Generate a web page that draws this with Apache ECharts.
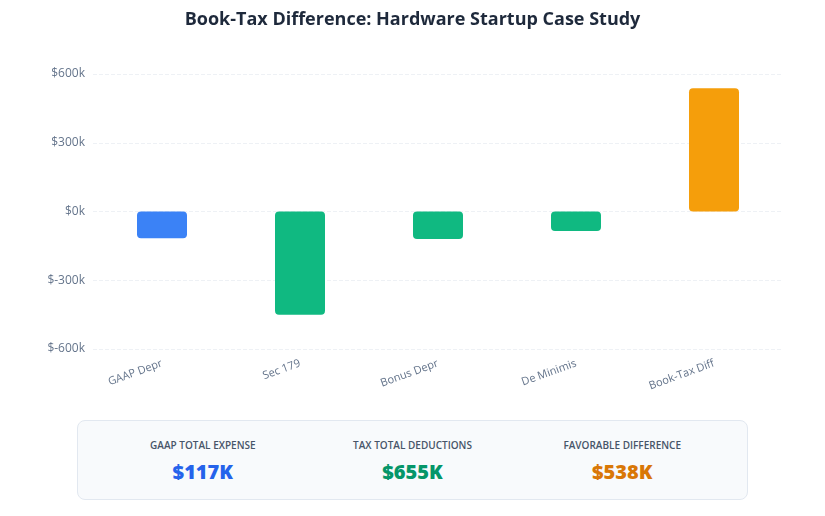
<!DOCTYPE html>
<html>
  <head>
    <meta charset="utf-8" />
    <title>Book-Tax Difference</title>
    <script src="https://cdn.jsdelivr.net/npm/echarts@6/dist/echarts.min.js"></script>
    <style>
      body { margin: 0; background: #fff; font-family: "Open Sans", "Noto Sans", sans-serif; }
      #main { width: 825px; height: 410px; }
      .summary {
        width: 671px; margin: 10px 0 0 77px; height: 80px; box-sizing: border-box;
        background: #f8fafc; border: 1px solid #e2e8f0; border-radius: 8px;
        display: flex; padding: 0 20px;
      }
      .kpi { flex: 1; text-align: center; padding-top: 17px; }
      .kpi .lbl { font-size: 10px; font-weight: 600; color: #475569; letter-spacing: 0; }
      .kpi .val { font-size: 20px; font-weight: 800; margin-top: 6px; }
    </style>
  </head>
  <body>
    <div id="main"></div>
    <div class="summary">
      <div class="kpi"><div class="lbl">GAAP TOTAL EXPENSE</div><div class="val" id="k1" style="color:#2563eb"></div></div>
      <div class="kpi"><div class="lbl">TAX TOTAL DEDUCTIONS</div><div class="val" id="k2" style="color:#059669"></div></div>
      <div class="kpi"><div class="lbl">FAVORABLE DIFFERENCE</div><div class="val" id="k3" style="color:#d97706"></div></div>
    </div>
    <script type="text/javascript">
      // data (in $k)
      const categories = ["GAAP Depr", "Sec 179", "Bonus Depr", "De Minimis", "Book-Tax Diff"];
      const values = [-117, -450, -120, -85, 538];
      const barColors = ["#3b82f6", "#10b981", "#10b981", "#10b981", "#f59e0b"];
      const yTicks = [-600, -300, 0, 300, 600];

      const gaapTotal = -values[0];
      const taxTotal = -(values[1] + values[2] + values[3]);
      const diff = values[4];
      document.getElementById("k1").textContent = "$" + gaapTotal + "K";
      document.getElementById("k2").textContent = "$" + taxTotal + "K";
      document.getElementById("k3").textContent = "$" + diff + "K";

      const myChart = echarts.init(document.getElementById("main"));
      const option = {
        title: {
          text: "Book-Tax Difference: Hardware Startup Case Study",
          left: "center",
          top: 6,
          textStyle: { fontSize: 18, fontWeight: "bold", color: "#1e293b", fontFamily: "Open Sans" },
        },
        grid: { left: 93, right: 42, top: 74, bottom: 61 },
        xAxis: {
          type: "category",
          data: categories,
          axisLine: { show: false },
          axisTick: { show: false },
          axisLabel: { rotate: 20, color: "#64748b", fontSize: 11, margin: 14, fontFamily: "Open Sans" },
        },
        yAxis: {
          type: "value",
          min: yTicks[0],
          max: yTicks[yTicks.length - 1],
          interval: 300,
          axisLine: { show: false },
          axisTick: { show: false },
          axisLabel: {
            color: "#64748b", fontSize: 12, margin: 8, fontFamily: "Open Sans",
            formatter: v => "$" + v + "k",
          },
          splitLine: { lineStyle: { type: "dashed", color: "#eef1f5" } },
        },
        series: [
          {
            type: "bar",
            barWidth: 50,
            data: values.map((v, i) => ({
              value: v,
              itemStyle: { color: barColors[i], borderRadius: 4 },
            })),
          },
        ],
      };
      myChart.setOption(option);
    </script>
  </body>
</html>
